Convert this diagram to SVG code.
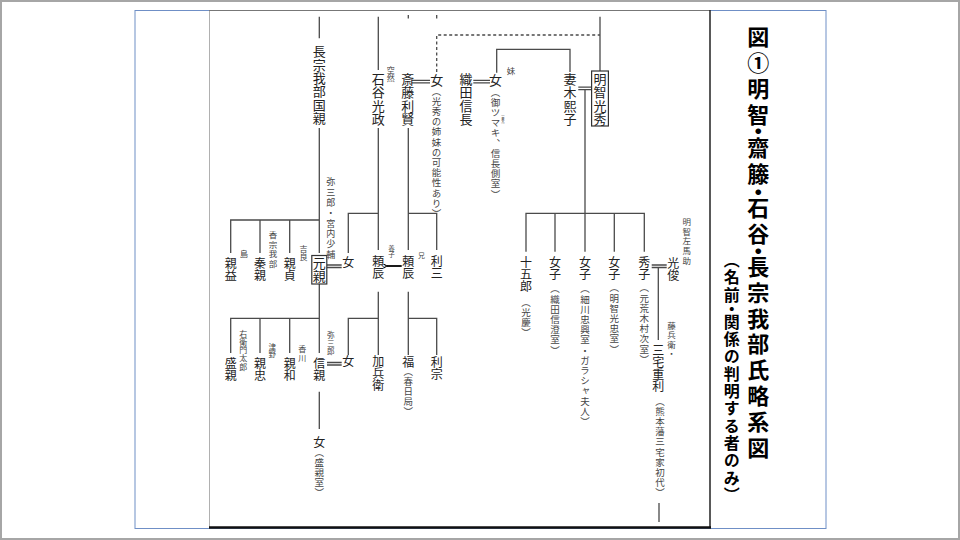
<svg xmlns="http://www.w3.org/2000/svg" width="960" height="540" viewBox="0 0 960 540">
<style>
text{font-family:"Noto Sans CJK JP","Noto Sans CJK SC",sans-serif;writing-mode:vertical-rl;fill:#222}
.n{font-size:13px;letter-spacing:0.3px}
.c{font-size:12px;letter-spacing:0.2px}
.s{font-size:9.5px;letter-spacing:0.7px;fill:#444}
.t{font-size:8.5px;letter-spacing:1px;fill:#444}
.ttl{font-size:22px;font-weight:700;letter-spacing:3.8px;fill:#000}
.sub{font-size:16px;font-weight:700;letter-spacing:1.3px;fill:#000}
.ln{stroke:#4a4a4a;stroke-width:1.3;fill:none}
.dash{stroke-dasharray:3 2.5}
.box{fill:none;stroke:#333;stroke-width:1.2}
</style>
<defs>
<marker id="ah" viewBox="0 0 10 10" refX="2" refY="5" markerWidth="5" markerHeight="5" orient="auto" markerUnits="userSpaceOnUse">
<path d="M9 1L2 5L9 9" fill="none" stroke="#000" stroke-width="2.2"/>
</marker>
</defs>
<rect x="1" y="1" width="958" height="538" fill="#fff" stroke="#a6a6a6" stroke-width="2"/>
<rect x="135" y="10.5" width="691" height="518" fill="none" stroke="#6f8fc6" stroke-width="1"/>
<line x1="209.5" y1="10.5" x2="209.5" y2="528" stroke="#b0b0b0" stroke-width="1"/>
<line x1="209" y1="10.5" x2="710" y2="10.5" stroke="#777" stroke-width="1"/>
<line x1="710" y1="10" x2="710" y2="528" stroke="#222" stroke-width="1.5"/>
<line x1="209" y1="527.5" x2="711" y2="527.5" stroke="#111" stroke-width="2.5"/>

<g id="title">
<text class="ttl" x="758.3" y="26"><tspan>図①明智</tspan><tspan y="120">・</tspan><tspan y="137">齋籐</tspan><tspan y="180">・</tspan><tspan y="197">石谷</tspan><tspan y="240">・</tspan><tspan y="255.5">長宗我部氏略系図</tspan></text>
<text class="sub" x="731.7" y="252"><tspan>（名前</tspan><tspan y="301">・</tspan><tspan y="314">関係の判明する者のみ）</tspan></text>
</g>

<g id="connectors">
<path class="ln" d="M319.3 16.7V38.3M319.3 128V253M230.7 253V220H319.3M260 220V253M289.7 220V253"/>
<path class="ln" d="M378.3 16.7V70M378.3 128V250M348.3 253V213.3H378.3"/>
<path class="ln" d="M408.3 15V18.5M436.7 15V18.5M408.3 128V250M408.3 213.3H436.7V250"/>
<path class="ln dash" d="M436.7 72V35H600"/>
<path class="ln" d="M600 16.7V71M496.7 72.7V49.3H570V72"/>
<path class="ln" d="M411.7 80.3H430M411.7 82.8H430M473.3 80.3H490M473.3 82.8H490M578.3 87.2H591.5M578.3 89.7H591.5"/>
<path class="ln" d="M585 89.7V251.7M526 251.7V213.3H644.3V251.7M555 213.3V251.7M614.3 213.3V251.7"/>
<path class="ln" d="M651.7 265H666.7M651.7 267.5H666.7M658.3 267.5V340M659 503V522"/>
<path class="ln" d="M327 265H341.7M327 267.5H341.7M319.3 284V353M230.7 353V318.3H319.3M260 318.3V353M289.7 318.3V353"/>
<path class="ln" d="M327 362.5H341.7M327 365H341.7M378.3 291.7V355M348.3 355V318.3H378.3M408.3 291.7V355M408.3 318.3H436.7V355M319.3 391.7V429"/>
<path d="M401.7 266H387" stroke="#000" stroke-width="1.8" fill="none" marker-end="url(#ah)"/>
<text x="391.5" y="245" style="font-size:6.5px;fill:#444">養子</text>
</g>

<g id="kunichika"><text class="n" x="319.3" y="45">長宗我部国親</text></g>
<g id="mitsumasa"><text class="n" x="378.3" y="72.5">石谷光政</text><text x="390.7" y="66" style="font-size:8px;letter-spacing:0.3px;fill:#444">空然</text></g>
<g id="toshikata"><text class="n" x="407.8" y="72.5">斎藤利賢</text></g>
<g id="onna1"><text class="n" x="436.7" y="73.5">女</text><text class="s" x="436.5" y="86.3">（光秀の姉妹の可能性あり）</text></g>
<g id="nobunaga"><text class="n" x="466" y="72.5">織田信長</text></g>
<g id="onna2"><text class="n" x="495.5" y="73.5">女</text><text x="511" y="67" style="font-size:8.5px;fill:#444">妹</text><text class="s" x="495.5" y="87.2">（御ツマキ、信長側室）</text><text x="502.8" y="113.5" style="font-size:3.3px;fill:#444">（妻木）</text></g>
<g id="hiroko"><text class="n" x="570" y="72.5">妻木熙子</text></g>
<g id="mitsuhide"><rect class="box" x="591.6" y="71" width="16.8" height="55"/><text class="n" x="600" y="72.5">明智光秀</text></g>

<g id="jugoro"><text class="c" x="526" y="256.5">十五郎</text><text class="s" x="526" y="297.3">（光慶）</text></g>
<g id="joshi1"><text class="c" x="555" y="256.5">女子</text><text class="s" x="555" y="284">（織田信澄室）</text></g>
<g id="joshi2"><text class="c" x="585" y="256.5">女子</text><text class="s" x="585" y="284">（細川忠興室・ガラシャ夫人）</text></g>
<g id="joshi3"><text class="c" x="614.3" y="256.5">女子</text><text class="s" x="614.3" y="283">（明智光忠室）</text></g>
<g id="hideko"><text class="c" x="644.3" y="256.5">秀子</text><text class="s" x="644.3" y="283">（元荒木村次室）</text></g>
<g id="mitsutoshi"><text class="c" x="673.3" y="257.5">光俊</text><text class="t" x="686.7" y="217.5" style="letter-spacing:1.2px">明智左馬助</text></g>
<g id="shigetoshi"><text class="c" x="658.3" y="344.5" style="letter-spacing:0">三宅重利</text><text class="t" x="671.5" y="321.5">藤兵衛・</text><text class="s" x="660" y="396.3">（熊本藩三宅家初代）</text></g>

<g id="motochika"><rect class="box" x="311.8" y="255.5" width="15" height="28.5"/><text x="319.3" y="256.8" style="font-size:13px">元親</text><text x="330.7" y="177.5" style="font-size:9px;letter-spacing:1.3px;fill:#444">弥三郎・宮内少輔</text></g>
<g id="onna3"><text class="c" x="348.3" y="256.5">女</text></g>
<g id="chikamasu"><text class="c" x="230.7" y="257.5">親益</text><text class="t" x="244" y="249.5">島</text></g>
<g id="chikayasu"><text class="c" x="260" y="257.5">秦親</text><text class="t" x="273" y="231">香宗我部</text></g>
<g id="chikasada"><text class="c" x="289.7" y="257.5">親貞</text><text x="303.5" y="244.5" style="font-size:8px;letter-spacing:0.3px;fill:#444">吉良</text></g>
<g id="yoritoki1"><text class="c" x="378.3" y="255">頼辰</text></g>
<g id="yoritoki2"><text class="c" x="408.3" y="255">頼辰</text><text x="421.5" y="251.5" style="font-size:7px;fill:#444">兄</text></g>
<g id="toshimitsu"><text class="c" x="436.7" y="255">利三</text></g>

<g id="morichika"><text class="c" x="230.7" y="357.5">盛親</text><text x="243.3" y="329.5" style="font-size:8px;letter-spacing:0.3px;fill:#444">右衛門太郎</text></g>
<g id="chikatada"><text class="c" x="260" y="357.5">親忠</text><text x="272.3" y="343" style="font-size:7.5px;fill:#444">津野</text></g>
<g id="chikakazu"><text class="c" x="289.7" y="357.5">親和</text><text x="302.3" y="345" style="font-size:8px;letter-spacing:0.5px;fill:#444">香川</text></g>
<g id="nobuchika"><text class="c" x="319.3" y="357.5">信親</text><text x="330.7" y="331.5" style="font-size:7.5px;letter-spacing:0.3px;fill:#444">弥三郎</text></g>
<g id="onna4"><text class="c" x="348.3" y="355.5">女</text></g>
<g id="kahyoe"><text class="c" x="378.3" y="355">加兵衛</text></g>
<g id="fuku"><text class="c" x="408.3" y="356.5">福</text><text class="s" x="408.3" y="366.3">（春日局）</text></g>
<g id="toshimune"><text class="c" x="436.7" y="356.5">利宗</text></g>
<g id="onna5"><text class="c" x="319.3" y="436">女</text><text class="s" x="319.3" y="447.3">（盛親室）</text></g>
</svg>
